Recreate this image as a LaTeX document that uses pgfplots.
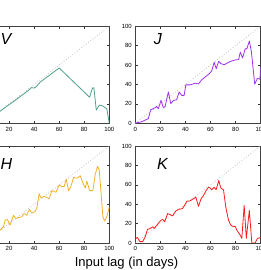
\documentclass[border=0pt]{standalone}
\usepackage{fontspec}
\setmainfont{Liberation Sans}
\usepackage{pgfplots}
\pgfplotsset{compat=1.18}
\definecolor{cV}{HTML}{4FA08C}
\definecolor{cJ}{HTML}{A030F0}
\definecolor{cH}{HTML}{F2B02A}
\definecolor{cK}{HTML}{FF1A1A}
\tikzset{
  diag/.style={gray!55, dotted, line width=0.7pt},
  lett/.style={font=\fontsize{16}{17}\selectfont\itshape, anchor=west},
}
\pgfplotsset{
  panel/.style={
    scale only axis, width=125.3pt, height=97pt,
    xmin=0,xmax=100,ymin=0,ymax=100,
    xtick={0,20,...,100}, ytick={0,20,...,100},
    tick align=inside, major tick length=2.5pt,
    tick style={black!80, line width=0.5pt},
    axis line style={black!75, line width=0.7pt},
    ticklabel style={font=\fontsize{6}{7}\selectfont},
    /pgf/number format/assume math mode=true,
    every axis plot/.append style={line width=0.8pt, line join=round},
  },
}
\begin{document}
\begin{tikzpicture}
\useasboundingbox (0,0) rectangle (261pt,270pt);
\clip (0,0) rectangle (261pt,270pt);
% V
\begin{axis}[panel, at={(-16pt,146.7pt)}, anchor=south west]
\addplot[diag] coordinates {(0,0)(100,100)};
\addplot[cV] coordinates {(0,0)(5,4.9)(10,9.6)(15,14.5)(20,19.2)(25,23.8)(30,28.6)(35,33.4)(38,36.8)(40,36.3)(42,38.2)(45,42.6)(50,47.4)(55,52.2)(60,57)(65,50.8)(70,44.6)(75,38.4)(80,32.2)(84.3,26.8)(85.5,32)(86.7,36.5)(87.7,36.5)(88.6,26)(89.6,13.5)(92,18.8)(94.6,18)(98,15)(100,0)};
\node[lett] at (axis cs:10.5,87) {V};
\end{axis}
% J
\begin{axis}[panel, at={(135.3pt,146.7pt)}, anchor=south west]
\addplot[diag] coordinates {(0,0)(100,100)};
\addplot[cJ] coordinates {(0,0)(1,0.5)(5,1.5)(9,4)(10.4,4.9)(12.3,14)(15.8,16)(17,17.4)(18.4,15)(20.5,23.6)(22.4,16)(23.8,17.4)(26.4,32.3)(28.3,20.2)(30.4,23.6)(33,24.3)(35,32.3)(37,28.8)(39,28.8)(40.3,39.6)(43.8,39.6)(47.8,41.3)(50.4,40.6)(53,44.8)(56,48)(59,51)(61,54)(63,62.8)(64.6,56.2)(66.5,63.8)(68.3,61.5)(71,60.4)(75.8,63.8)(80.6,65.6)(82.4,65.6)(83.8,73.3)(85.6,67.4)(87.7,76.7)(89,76.7)(91,84.8)(92.6,74.3)(95.3,40.3)(97.4,46.3)(99.5,45.5)(100,58)};
\node[lett] at (axis cs:12,86.5) {J};
\end{axis}
% H
\begin{axis}[panel, at={(-16pt,27pt)}, anchor=south west]
\addplot[diag] coordinates {(0,0)(100,100)};
\addplot[cH] coordinates {(0,1)(5,6)(10,9)(12.8,13.3)(15.5,16.6)(16.8,23.5)(18.7,24.2)(20.8,18.4)(23.5,28.6)(25.3,25.2)(27.5,26.2)(30.1,26.9)(32,30.3)(34.1,28.6)(36.3,34.7)(38.1,30.9)(40.3,32)(42.1,35.4)(44,50.7)(45.6,46.3)(47.5,48)(49.6,47.3)(52,45.6)(54.1,54)(56,53)(57.6,52.4)(60,59.9)(62.1,58.2)(64,58.2)(65.6,66)(67.5,54)(69.3,58.2)(71.5,67.7)(72.8,67)(74.7,67)(76.8,69.4)(78.7,62.6)(80.8,56.8)(82.1,63.6)(84.3,54)(86.9,54)(88.8,71)(90.7,79)(92,75)(93.5,50)(94.9,26.9)(96.2,22.8)(98,26.9)(100,37)};
\node[lett] at (axis cs:10.5,81.3) {H};
\end{axis}
% K
\begin{axis}[panel, at={(135.3pt,27pt)}, anchor=south west]
\addplot[diag] coordinates {(0,0)(100,100)};
\addplot[cK] coordinates {(0,4)(1.6,5.8)(3.7,1.4)(5.9,1.4)(7.9,6.4)(9.7,14)(11.9,15)(14,16.7)(15.1,15)(17.2,18.4)(20.4,23.5)(22,24.2)(23.4,21.8)(25.8,30.3)(27.9,29.2)(29.8,27.9)(32.3,33)(34.6,34.7)(37.6,35.4)(39.3,38.8)(41.2,43.2)(43.3,43.2)(46.4,45.6)(48.3,47.3)(50.4,37.8)(52.5,45.6)(54.4,49)(56.5,54)(58.4,57.4)(59.7,56.8)(61,54.8)(62.9,57.4)(64.5,54.8)(66.6,64.3)(68.2,56.8)(70.4,54.8)(72.2,37)(74.4,23.5)(76.2,18.4)(78.4,16.7)(79.7,17.3)(81,13.3)(83.7,8.2)(85,4.8)(86.9,38.8)(88.6,4.8)(91,33.7)(93,0)(95.6,0)(97.5,4.8)(100,5.5)};
\node[lett] at (axis cs:14.5,81) {K};
\end{axis}
\node[font=\fontsize{13}{15}\selectfont, anchor=base] at (126.5pt,3.7pt) {Input lag (in days)};
\end{tikzpicture}
\end{document}
